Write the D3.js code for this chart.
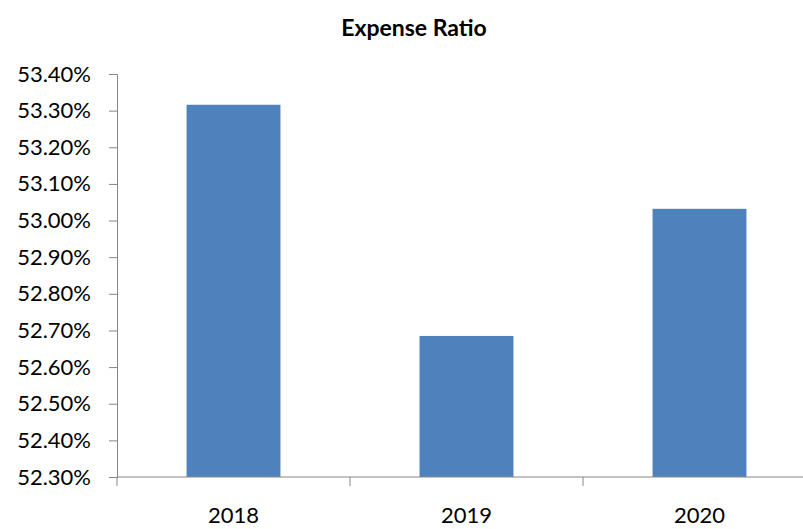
<!DOCTYPE html>
<html>
<head>
<meta charset="utf-8">
<script src="https://cdn.jsdelivr.net/npm/d3@7"></script>
<style>
  html, body { margin: 0; padding: 0; background: #fff; }
  svg { display: block; }
  text { font-family: Lato, "Open Sans", sans-serif; fill: #000; }
</style>
</head>
<body>
<svg id="chart" width="803" height="529"></svg>
<script>
const title = "Expense Ratio";
const categories = ["2018", "2019", "2020"];
const values = [53.316, 52.685, 53.032];
const yTicks = [52.3, 52.4, 52.5, 52.6, 52.7, 52.8, 52.9, 53.0, 53.1, 53.2, 53.3, 53.4];

const svg = d3.select("#chart");
const plotLeft = 117, plotRight = 816, plotTop = 74, plotBottom = 477;

const x = d3.scaleBand().domain(categories).range([plotLeft, plotRight]).paddingInner(0.597).paddingOuter(0.2985);
const y = d3.scaleLinear().domain([52.3, 53.4]).range([plotBottom, plotTop]);

svg.append("text")
  .attr("x", 414).attr("y", 36)
  .attr("text-anchor", "middle")
  .style("font-weight", "bold")
  .style("font-size", "23px")
  .text(title);

svg.append("g").selectAll("rect").data(values).join("rect")
  .attr("x", (d, i) => x(categories[i]))
  .attr("width", x.bandwidth())
  .attr("y", d => y(d))
  .attr("height", d => y(52.3) - y(d))
  .attr("fill", "#4F81BD");

const yAxis = svg.append("g").attr("transform", `translate(${plotLeft},0)`)
  .call(d3.axisLeft(y).tickValues(yTicks).tickSize(8).tickPadding(18)
    .tickFormat(d => d.toFixed(2) + "%"));
yAxis.selectAll("path, line").attr("stroke", "#868686");
yAxis.selectAll("text").style("font-size", "22px").attr("fill", "#000");

// x axis with ticks at category boundaries
const xAxisG = svg.append("g").attr("transform", `translate(0,${plotBottom})`);
xAxisG.append("line").attr("x1", plotLeft).attr("x2", plotRight).attr("y1", 0).attr("y2", 0).attr("stroke", "#868686");
const boundaries = categories.map(c => x(c) - x.step() * x.paddingInner() / 2).concat([plotRight]);
xAxisG.selectAll("line.tick").data(boundaries).join("line")
  .attr("class", "tick")
  .attr("x1", d => d).attr("x2", d => d)
  .attr("y1", 0).attr("y2", 9)
  .attr("stroke", "#868686");
xAxisG.selectAll("text").data(categories).join("text")
  .attr("x", d => x(d) + x.bandwidth() / 2)
  .attr("y", 46)
  .attr("text-anchor", "middle")
  .style("font-size", "22px")
  .text(d => d);
</script>
</body>
</html>
